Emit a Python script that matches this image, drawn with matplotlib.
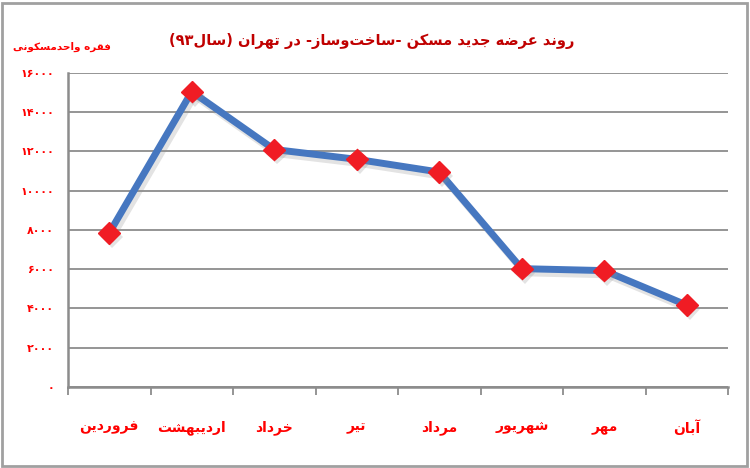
import re
import matplotlib.pyplot as plt
import matplotlib.patheffects as pe
from matplotlib.patches import Rectangle
from matplotlib.ticker import FixedLocator, FuncFormatter

months = ['فروردین', 'اردیبهشت', 'خرداد', 'تیر', 'مرداد', 'شهریور', 'مهر', 'آبان']
units = [7850, 15050, 12100, 11600, 10950, 6030, 5930, 4170]
y_ticks = [0, 2000, 4000, 6000, 8000, 10000, 12000, 14000, 16000]
title = 'روند عرضه جدید مسکن -ساخت\u200cوساز- در تهران (سال۹۳)'
y_label = 'فقره واحدمسکونی'

# matplotlib does no arabic shaping, so pick presentation forms by hand
# (isolated, final, initial, medial)
FORMS = {
    'ا': ('\uFE8D', '\uFE8E', None, None),
    'آ': ('\uFE81', '\uFE82', None, None),
    'ب': ('\uFE8F', '\uFE90', '\uFE91', '\uFE92'),
    'ت': ('\uFE95', '\uFE96', '\uFE97', '\uFE98'),
    'ج': ('\uFE9D', '\uFE9E', '\uFE9F', '\uFEA0'),
    'ح': ('\uFEA1', '\uFEA2', '\uFEA3', '\uFEA4'),
    'خ': ('\uFEA5', '\uFEA6', '\uFEA7', '\uFEA8'),
    'د': ('\uFEA9', '\uFEAA', None, None),
    'ر': ('\uFEAD', '\uFEAE', None, None),
    'ز': ('\uFEAF', '\uFEB0', None, None),
    'س': ('\uFEB1', '\uFEB2', '\uFEB3', '\uFEB4'),
    'ش': ('\uFEB5', '\uFEB6', '\uFEB7', '\uFEB8'),
    'ض': ('\uFEBD', '\uFEBE', '\uFEBF', '\uFEC0'),
    'ع': ('\uFEC9', '\uFECA', '\uFECB', '\uFECC'),
    'ف': ('\uFED1', '\uFED2', '\uFED3', '\uFED4'),
    'ق': ('\uFED5', '\uFED6', '\uFED7', '\uFED8'),
    'ل': ('\uFEDD', '\uFEDE', '\uFEDF', '\uFEE0'),
    'م': ('\uFEE1', '\uFEE2', '\uFEE3', '\uFEE4'),
    'ن': ('\uFEE5', '\uFEE6', '\uFEE7', '\uFEE8'),
    'ه': ('\uFEE9', '\uFEEA', '\uFEEB', '\uFEEC'),
    'و': ('\uFEED', '\uFEEE', None, None),
    'ک': ('\uFB8E', '\uFB8F', '\uFB90', '\uFB91'),
    'ی': ('\uFBFC', '\uFBFD', '\uFBFE', '\uFBFF'),
}


def fa(text):
    out = []
    for i, c in enumerate(text):
        if c not in FORMS:
            out.append(c)
            continue
        prev = text[i - 1] if i > 0 else None
        nxt = text[i + 1] if i + 1 < len(text) else None
        p = prev in FORMS and FORMS[prev][2] is not None
        n = FORMS[c][2] is not None and nxt in FORMS
        iso, fin, ini, med = FORMS[c]
        out.append(med if p and n else fin if p else ini if n else iso)
    s = ''.join(out).replace('\u200c', '')[::-1]
    s = re.sub('[۰-۹0-9]+', lambda m: m.group(0)[::-1], s)
    return s.translate(str.maketrans('()', ')('))


def fa_num(v, pos=None):
    return str(int(v)).translate(str.maketrans('0123456789', '۰۱۲۳۴۵۶۷۸۹'))


plt.rcParams['font.family'] = ['DejaVu Sans']
red = '#ff0000'

fig = plt.figure(figsize=(7.5, 4.68), dpi=100)
ax = fig.add_axes([0.0907, 0.1731, 0.88, 0.671])

x = list(range(len(months)))
ax.plot(x, units, color='#4677c0', linewidth=5, solid_joinstyle='miter', zorder=3,
        path_effects=[pe.SimpleLineShadow(offset=(2, -3), shadow_color='#909090', alpha=0.25),
                      pe.Normal()])
ax.plot(x, units, linestyle='none', marker='D', markersize=11, color='#f01c24',
        markeredgecolor='#f01c24', zorder=4,
        path_effects=[pe.SimplePatchShadow(offset=(2, -3), shadow_rgbFace='#909090', alpha=0.25),
                      pe.Normal()])

ax.set_xlim(-0.5, len(months) - 0.5)
ax.set_ylim(0, 16000)
ax.set_yticks(y_ticks)
ax.yaxis.set_major_formatter(FuncFormatter(fa_num))
ax.set_xticks(x)
ax.set_xticklabels([fa(m) for m in months])
ax.xaxis.set_minor_locator(FixedLocator([i - 0.5 for i in range(len(months) + 1)]))

ax.grid(axis='y', color='#8c8c8c', linewidth=1.3)
ax.set_axisbelow(True)
for s in ['top', 'right']:
    ax.spines[s].set_visible(False)
for s in ['left', 'bottom']:
    ax.spines[s].set_color('#8c8c8c')
    ax.spines[s].set_linewidth(1.8)

ax.tick_params(axis='x', which='major', length=0, pad=24, labelsize=10, labelcolor=red)
ax.tick_params(axis='x', which='minor', length=6, width=1.3, color='#8c8c8c')
ax.tick_params(axis='y', length=0, pad=10, labelsize=8, labelcolor=red)
for lab in ax.get_xticklabels() + ax.get_yticklabels():
    lab.set_fontweight('bold')

fig.text(0.496, 0.912, fa(title), ha='center', va='center', fontsize=10.5,
         fontweight='bold', color='#c00000')
fig.text(0.018, 0.900, fa(y_label), ha='left', va='center', fontsize=7.5,
         fontweight='bold', color=red)

fig.patches.append(Rectangle((0.003, 0.004), 0.993, 0.99, transform=fig.transFigure,
                             fill=False, edgecolor='#a0a0a0', linewidth=2))

fig.savefig('out.png', dpi=100)
